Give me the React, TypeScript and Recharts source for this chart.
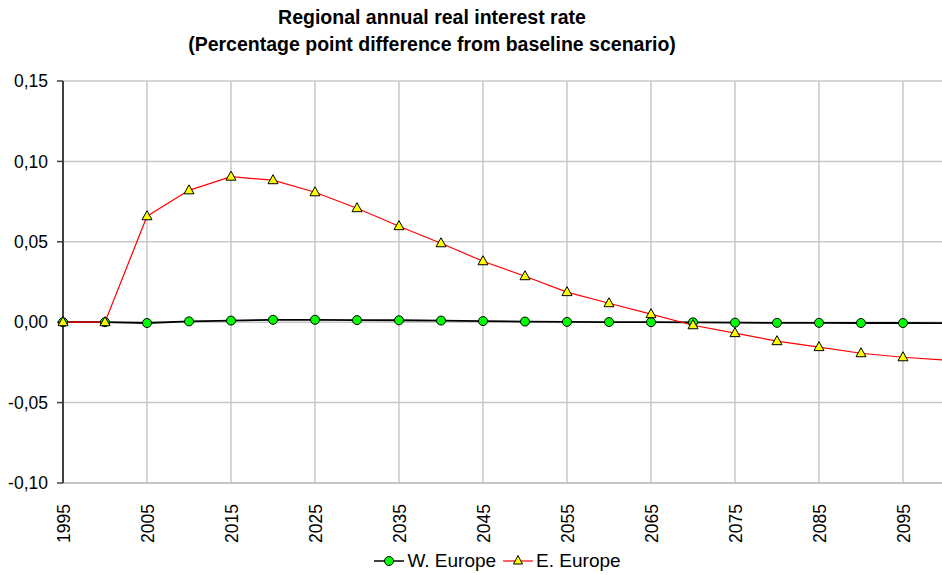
import { LineChart, Line, XAxis, YAxis, CartesianGrid } from 'recharts'

// years every 5, the last point runs off the right edge like in the original
const years = [1995, 2000, 2005, 2010, 2015, 2020, 2025, 2030, 2035, 2040, 2045, 2050, 2055, 2060, 2065, 2070, 2075, 2080, 2085, 2090, 2095, 2100]
const wEurope = [0, 0, -0.0005, 0.0005, 0.001, 0.0015, 0.0015, 0.0013, 0.0012, 0.001, 0.0007, 0.0004, 0.0002, 0.0001, 0, -0.0001, -0.0003, -0.0004, -0.0004, -0.0005, -0.0005, -0.0006]
const eEurope = [0, 0, 0.0659, 0.082, 0.0905, 0.0883, 0.0808, 0.0709, 0.0597, 0.0491, 0.0379, 0.0286, 0.0187, 0.0118, 0.005, -0.0019, -0.0068, -0.0118, -0.0155, -0.0193, -0.0218, -0.0236]
const xTicks = [1995, 2005, 2015, 2025, 2035, 2045, 2055, 2065, 2075, 2085, 2095]
const yTicks = [-0.1, -0.05, 0, 0.05, 0.1, 0.15]

const FONT = '"Liberation Sans", Arial, sans-serif'

const data = years.map((y, i) => ({ year: y, w: wEurope[i], e: eEurope[i] }))

const fmtY = (v: number) => v.toFixed(2).replace('.', ',')

function XTick(props: any) {
  const { x, y, payload } = props
  return (
    <text
      x={x + 6.5}
      y={y + 13}
      transform={`rotate(-90, ${x + 6.5}, ${y + 13})`}
      textAnchor="end"
      fontSize={17.5}
      fontFamily={FONT}
      fill="#000"
    >
      {payload.value}
    </text>
  )
}

function CircleDot(props: any) {
  const { cx, cy, payload } = props
  if (payload.year > 2095) return null
  return <circle cx={cx} cy={cy} r={4.5} fill="#00FF00" stroke="#000" strokeWidth={1} />
}

function TriangleDot(props: any) {
  const { cx, cy, payload } = props
  if (payload.year > 2095) return null
  const pts = `${cx},${cy - 5.5} ${cx - 5},${cy + 3.5} ${cx + 5},${cy + 3.5}`
  return <polygon points={pts} fill="#FFFF00" stroke="#000" strokeWidth={1} />
}

export default function App() {
  return (
    <div
      style={{
        position: 'absolute',
        left: 0,
        top: 0,
        width: 942,
        height: 575,
        overflow: 'hidden',
        background: '#fff',
        fontFamily: FONT,
      }}
    >
      <div
        style={{
          position: 'absolute',
          left: 0,
          top: 4,
          width: 864,
          textAlign: 'center',
          fontWeight: 'bold',
          fontSize: 19.5,
          lineHeight: '27px',
          color: '#000',
        }}
      >
        Regional annual real interest rate
        <br />
        (Percentage point difference from baseline scenario)
      </div>

      <LineChart width={950} height={575} data={data} margin={{ top: 81, right: 5, bottom: 0, left: 0 }}>
        <CartesianGrid stroke="#C8C8C8" strokeWidth={1.5} />
        <XAxis
          dataKey="year"
          type="number"
          domain={[1995, 2100]}
          ticks={xTicks}
          interval={0}
          tick={<XTick />}
          tickLine={false}
          axisLine={{ stroke: '#C0C0C0', strokeWidth: 1.5 }}
          height={92}
        />
        <YAxis
          type="number"
          domain={[-0.1, 0.15]}
          ticks={yTicks}
          interval={0}
          tickFormatter={fmtY}
          width={63}
          tickSize={6}
          tickMargin={9}
          tick={{ fill: '#000', fontSize: 17.5, fontFamily: FONT }}
          tickLine={{ stroke: '#404040', strokeWidth: 1.5 }}
          axisLine={{ stroke: '#404040', strokeWidth: 2 }}
        />
        <Line
          dataKey="w"
          name="W. Europe"
          stroke="#000"
          strokeWidth={1.8}
          dot={<CircleDot />}
          isAnimationActive={false}
        />
        <Line
          dataKey="e"
          name="E. Europe"
          stroke="#FF0000"
          strokeWidth={1.2}
          dot={<TriangleDot />}
          isAnimationActive={false}
        />
      </LineChart>

      {/* legend */}
      <div
        style={{
          position: 'absolute',
          left: 0,
          top: 550,
          width: 995,
          display: 'flex',
          justifyContent: 'center',
          alignItems: 'center',
          fontSize: 19,
          color: '#000',
          gap: 7,
        }}
      >
        <span style={{ display: 'flex', alignItems: 'center' }}>
          <svg width={30} height={14} style={{ marginRight: 3 }}>
            <line x1={0} y1={7} x2={30} y2={7} stroke="#000" strokeWidth={1.5} />
            <circle cx={15} cy={7} r={4.5} fill="#00FF00" stroke="#000" />
          </svg>
          W. Europe
        </span>
        <span style={{ display: 'flex', alignItems: 'center' }}>
          <svg width={30} height={14} style={{ marginRight: 3 }}>
            <line x1={0} y1={7} x2={30} y2={7} stroke="#FF0000" strokeWidth={1.2} />
            <polygon points="15,1.5 10.5,10 19.5,10" fill="#FFFF00" stroke="#000" />
          </svg>
          E. Europe
        </span>
      </div>
    </div>
  )
}
